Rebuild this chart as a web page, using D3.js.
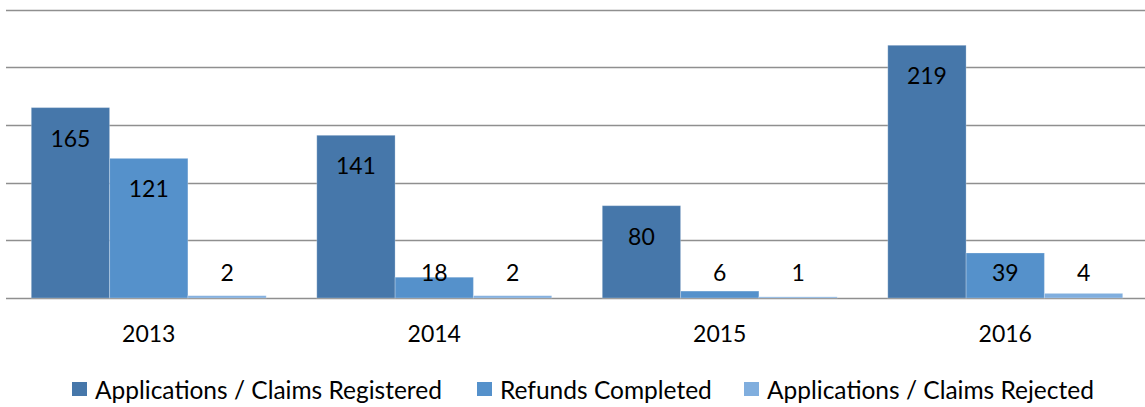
<!DOCTYPE html>
<html>
<head>
<meta charset="utf-8">
<script src="https://cdn.jsdelivr.net/npm/d3@7"></script>
<style>
  body { margin: 0; background: #fff; }
  text { font-family: Lato, "Open Sans", sans-serif; fill: #000; }
</style>
</head>
<body>
<script>
// chart data
var years = ["2013", "2014", "2015", "2016"];
var seriesNames = ["Applications / Claims Registered", "Refunds Completed", "Applications / Claims Rejected"];
var registered = [165, 141, 80, 219];
var completed = [121, 18, 6, 39];
var rejected = [2, 2, 1, 4];
var yTicks = [0, 50, 100, 150, 200, 250];

var colors = ["#4677aa", "#5591cb", "#80aede"];

var W = 1145, H = 407;

var svg = d3.select("body")
            .append("svg")
            .attr("width", W)
            .attr("height", H);

var x0 = d3.scaleBand()
           .domain(years)
           .range([6, 1148])
           .padding(0);

var x1 = d3.scaleBand()
           .domain(seriesNames)
           .range([0, x0.bandwidth()])
           .paddingInner(0)
           .paddingOuter(0.323);

var y = d3.scaleLinear()
          .domain([0, 250])
          .range([298, 9.5]);

// gridlines
svg.append("g")
   .selectAll("line")
   .data(yTicks)
   .enter()
   .append("line")
   .attr("x1", 6)
   .attr("x2", W)
   .attr("y1", function(d) { return Math.round(y(d)) + 0.5; })
   .attr("y2", function(d) { return Math.round(y(d)) + 0.5; })
   .attr("stroke", "#8f8f8f")
   .attr("stroke-width", 1.3);

// flatten into rows
var rows = [];
years.forEach(function(yr, i) {
    [registered, completed, rejected].forEach(function(arr, j) {
        rows.push({year: yr, series: seriesNames[j], value: arr[i], idx: j});
    });
});

var bars = svg.append("g");

bars.selectAll("rect")
    .data(rows)
    .enter()
    .append("rect")
    .attr("x", function(d) { return x0(d.year) + x1(d.series); })
    .attr("y", function(d) { return y(d.value); })
    .attr("width", x1.bandwidth())
    .attr("height", function(d) { return y(0) - y(d.value); })
    .attr("fill", function(d) { return colors[d.idx]; })
    .attr("stroke", "rgba(255,255,255,0.25)")
    .attr("stroke-width", 1);

// value labels, inside end, pushed up for short bars
bars.selectAll("text")
    .data(rows)
    .enter()
    .append("text")
    .attr("x", function(d) { return x0(d.year) + x1(d.series) + x1.bandwidth() / 2; })
    .attr("y", function(d) { return Math.min(y(d.value) + 30, y(0) - 26); })
    .attr("text-anchor", "middle")
    .attr("dominant-baseline", "central")
    .style("font-size", "23px")
    .text(function(d) { return d.value; });

// category labels
svg.append("g")
   .selectAll("text")
   .data(years)
   .enter()
   .append("text")
   .attr("x", function(d) { return x0(d) + x0.bandwidth() / 2; })
   .attr("y", 333)
   .attr("text-anchor", "middle")
   .attr("dominant-baseline", "central")
   .style("font-size", "23px")
   .text(function(d) { return d; });

// legend
var legendX = [72, 477, 744];
var legend = svg.append("g")
                .selectAll("g")
                .data(seriesNames)
                .enter()
                .append("g")
                .attr("transform", function(d, i) { return "translate(" + legendX[i] + ",389)"; });

legend.append("rect")
      .attr("x", 0)
      .attr("y", -7)
      .attr("width", 15)
      .attr("height", 14)
      .attr("fill", function(d, i) { return colors[i]; });

legend.append("text")
      .attr("x", 23)
      .attr("y", 0)
      .attr("dominant-baseline", "central")
      .style("font-size", "24.5px")
      .text(function(d) { return d; });
</script>
</body>
</html>
